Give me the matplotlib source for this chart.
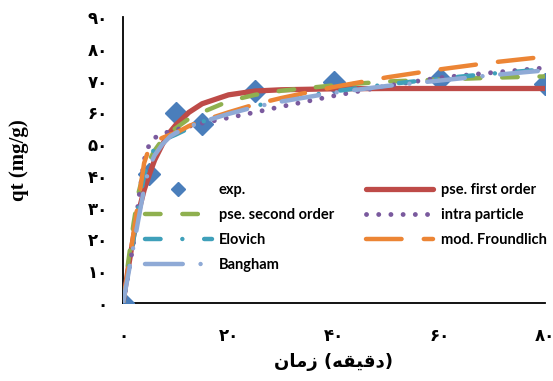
import matplotlib
matplotlib.use("Agg")
import matplotlib.pyplot as plt

# experimental points
t_exp = [0, 5, 10, 15, 25, 40, 60, 80]
q_exp = [0, 40.6, 59.7, 56.3, 66.6, 69.7, 70.6, 69.0]

# model curves
t_fit = [0, 1, 2, 3, 4, 5, 6, 7.5, 9, 10, 12.5, 15, 20, 25, 30, 40, 50, 60, 70, 80]
q_first = [0, 11, 21, 29, 35.5, 40.5, 45, 50, 54, 56, 60, 62.7, 65.5, 66.7, 67.1, 67.4, 67.5, 67.5, 67.5, 67.5]
q_second = [0, 13, 25, 35, 41.5, 45, 48, 51.5, 54, 55, 58, 60, 63.5, 65.5, 66.8, 68.5, 69.7, 70.3, 70.9, 71.3]
q_intra = [0, 9, 19, 33, 45, 50, 52, 53.2, 54.1, 54.5, 55.6, 56.6, 58.3, 60, 61.8, 65.2, 68.3, 70.9, 72.5, 74]
q_elovich = [0, 10, 20, 31, 40, 46, 48.5, 50.5, 52.3, 53, 55, 57, 59.8, 62, 63.8, 66.6, 68.8, 70.6, 72.2, 73.5]
q_freund = [0, 11, 22, 33, 44, 49, 50.8, 52, 53, 53.5, 55.7, 57.3, 60, 62.5, 64.5, 68, 71, 73.5, 75.7, 77.5]
q_bangham = [0, 9, 18, 27, 36, 43, 46.5, 50, 52.5, 53.5, 55.5, 57, 59.5, 61.7, 63.4, 66.2, 68.3, 70, 71.7, 73.2]

x_ticks = [0, 20, 40, 60, 80]
y_ticks = [0, 10, 20, 30, 40, 50, 60, 70, 80, 90]

def fa(n):
    return str(n).translate(str.maketrans("0123456789", "۰۱۲۳۴۵۶۷۸۹"))

fig = plt.figure(figsize=(5.53, 3.81), dpi=100)
ax = fig.add_axes([123/553, 78/381, 422/553, 286/381])

lw = 3.2
ex, = ax.plot(t_exp, q_exp, "D", color="#4A7EBB", markersize=11.5, ls="none", zorder=2, label="exp.")
l1, = ax.plot(t_fit, q_first, color="#BE4B48", lw=lw + 0.6, solid_capstyle="round", solid_joinstyle="round", zorder=3, label="pse. first order")
l2, = ax.plot(t_fit, q_second, color="#8FB04F", lw=lw, dashes=(3.5, 4.9), dash_capstyle="round", zorder=4, label="pse. second order")
l3, = ax.plot(t_fit, q_intra, color="#7A5A9E", lw=lw + 0.3, dashes=(0.01, 2.5), dash_capstyle="round", zorder=5, label="intra particle")
l4, = ax.plot(t_fit, q_elovich, color="#3FA0BA", lw=lw, dashes=(3.5, 4.9, 0.01, 4.9), dash_capstyle="round", zorder=6, label="Elovich")
l5, = ax.plot(t_fit, q_freund, color="#EC8535", lw=lw, dashes=(8, 5), dash_capstyle="round", zorder=7, label="mod. Froundlich")
l6, = ax.plot(t_fit, q_bangham, color="#8FAAD6", lw=lw, dashes=(8.5, 4, 0.01, 4), dash_capstyle="round", zorder=8, label="Bangham")

ax.set_xlim(0, 80)
ax.set_ylim(0, 90)
for s in ["top", "right"]:
    ax.spines[s].set_visible(False)
for s in ["left", "bottom"]:
    ax.spines[s].set_linewidth(1.3)
    ax.spines[s].set_zorder(1)

tick_font = dict(family="DejaVu Sans", fontweight="bold", fontsize=12)
ax.set_xticks(x_ticks)
ax.set_xticklabels([fa(v) for v in x_ticks], **tick_font)
ax.set_yticks(y_ticks)
ax.set_yticklabels([fa(v) for v in y_ticks], **tick_font)
ax.tick_params(axis="x", length=0, pad=17)
ax.tick_params(axis="y", length=0, pad=11)

ax.set_ylabel("qt (mg/g)", family="Liberation Serif", fontweight="bold", fontsize=15, labelpad=42)
# "زمان (دقیقه)" in shaped presentation forms, visual order
ax.set_xlabel("\uFEE5\uFE8E\uFEE3\uFEAF (\uFEEA\uFED8\uFEF4\uFED7\uFEA9)",
              family="DejaVu Sans", fontweight="bold", fontsize=13, labelpad=6)

handles = [ex, l2, l4, l6, l1, l3, l5]
leg = ax.legend(handles=handles, ncol=2, loc="upper left", bbox_to_anchor=(0.02, 0.465),
                frameon=False, handlelength=4.6, handletextpad=0.5, columnspacing=2.2,
                labelspacing=0.75, markerscale=0.6,
                prop=dict(family="Lato", weight="bold", size=10.5))

fig.savefig("out.png", dpi=100)
